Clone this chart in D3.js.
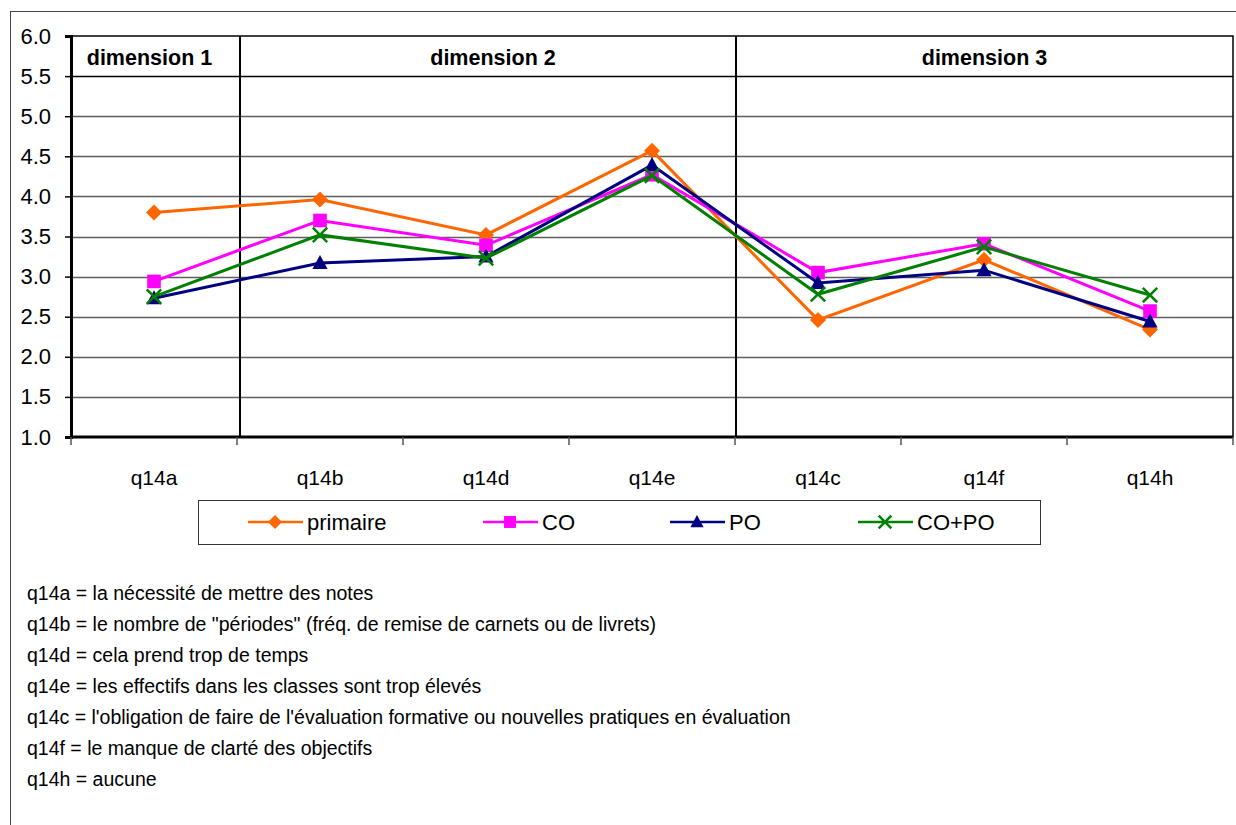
<!DOCTYPE html>
<html><head><meta charset="utf-8">
<script src="https://cdn.jsdelivr.net/npm/d3@7/dist/d3.min.js"></script>
<style>body{margin:0;background:#fff}svg{display:block;font-family:"Liberation Sans",Arial,sans-serif}</style>
</head><body>
<svg id="c" width="1236" height="825"></svg>
<script>
const categories = ["q14a","q14b","q14d","q14e","q14c","q14f","q14h"];
const primaire = [3.80, 3.96, 3.52, 4.57, 2.46, 3.21, 2.34];
const CO       = [2.94, 3.70, 3.39, 4.27, 3.05, 3.41, 2.57];
const PO       = [2.73, 3.17, 3.25, 4.39, 2.92, 3.08, 2.44];
const COPO     = [2.75, 3.52, 3.23, 4.26, 2.78, 3.37, 2.77];
const yTicks = [1.0,1.5,2.0,2.5,3.0,3.5,4.0,4.5,5.0,5.5,6.0];
const dimensions = [
  {label:"dimension 1", from:0, to:1},
  {label:"dimension 2", from:1, to:4},
  {label:"dimension 3", from:4, to:7}
];
const footnotes = [
  "q14a = la nécessité de mettre des notes",
  "q14b = le nombre de \"périodes\" (fréq. de remise de carnets ou de livrets)",
  "q14d = cela prend trop de temps",
  "q14e = les effectifs dans les classes sont trop élevés",
  "q14c = l'obligation de faire de l'évaluation formative ou nouvelles pratiques en évaluation",
  "q14f = le manque de clarté des objectifs",
  "q14h = aucune"
];
const series = [
  {name:"primaire", values:primaire, color:"#FF6600", marker:"diamond"},
  {name:"CO", values:CO, color:"#FF00FF", marker:"square"},
  {name:"PO", values:PO, color:"#000080", marker:"triangle"},
  {name:"CO+PO", values:COPO, color:"#008000", marker:"x"}
];

const svg = d3.select("#c");
const L=71, R=1233, T=36, B=437;
const x = d3.scaleBand().domain(categories).range([L,R]);
const y = d3.scaleLinear().domain([1,6]).range([B,T]);

// outer frame
svg.append("rect").attr("x",10.5).attr("y",11.5).attr("width",1240).attr("height",830)
  .attr("fill","none").attr("stroke","#444").attr("stroke-width",1);

// gridlines
svg.append("g").selectAll("line").data(yTicks.filter(d=>d>1&&d<6)).join("line")
  .attr("x1",L).attr("x2",R).attr("y1",d=>Math.round(y(d))+0.5).attr("y2",d=>Math.round(y(d))+0.5)
  .attr("stroke",d=>d===5.5?"#000":"#5e5e5e").attr("stroke-width",1.5);

// plot border
svg.append("rect").attr("x",L).attr("y",T).attr("width",R-L).attr("height",B-T)
  .attr("fill","none").attr("stroke","#000").attr("stroke-width",1.5);

// dimension separators
const sepX = [x(categories[1])+3, x(categories[4])+1];
svg.append("g").selectAll("line").data(sepX).join("line")
  .attr("x1",d=>d).attr("x2",d=>d).attr("y1",T).attr("y2",B)
  .attr("stroke","#000").attr("stroke-width",2);

// dimension labels
const dimX = [L, sepX[0], sepX[1], R];
const dimDx = [-6, 5, 0];
svg.append("g").selectAll("text").data(dimensions).join("text")
  .attr("x",(d,i)=> (dimX[i]+dimX[i+1])/2 + dimDx[i])
  .attr("y",65).attr("text-anchor","middle").attr("font-size",21.5).attr("font-weight","bold")
  .text(d=>d.label);

// y axis
const yAxis = d3.axisLeft(y).tickValues(yTicks).tickFormat(d3.format(".1f")).tickSize(6).tickPadding(14);
const gy = svg.append("g").attr("transform",`translate(${L},0)`).call(yAxis);
gy.select(".domain").attr("stroke","#000").attr("stroke-width",3);
gy.selectAll(".tick line").attr("stroke","#000").attr("stroke-width",1.5);
gy.selectAll("text").attr("font-size",22).attr("fill","#000").attr("font-family","Liberation Sans, Arial, sans-serif");

// x axis
const gx = svg.append("g").attr("transform",`translate(0,${B})`);
gx.append("line").attr("x1",L).attr("x2",R).attr("stroke","#000").attr("stroke-width",3);
const bounds = d3.range(categories.length+1).map(i=>L+i*x.step());
gx.selectAll("line.t").data(bounds).join("line").attr("class","t")
  .attr("x1",d=>d).attr("x2",d=>d).attr("y1",0).attr("y2",8).attr("stroke","#555").attr("stroke-width",1.5);
gx.selectAll("text").data(categories).join("text")
  .attr("x",d=>x(d)+x.bandwidth()/2).attr("y",48).attr("text-anchor","middle").attr("font-size",21).text(d=>d);

// markers
function drawMarker(g, type, color, s){
  if(type==="diamond") g.append("path").attr("d",`M0,${-s}L${s},0L0,${s}L${-s},0Z`).attr("fill",color);
  else if(type==="square") g.append("rect").attr("x",-s*0.85).attr("y",-s*0.85).attr("width",s*1.7).attr("height",s*1.7).attr("fill",color);
  else if(type==="triangle") g.append("path").attr("d",`M0,${-s}L${s*0.95},${s*0.75}L${-s*0.95},${s*0.75}Z`).attr("fill",color);
  else if(type==="x") g.append("path").attr("d",`M${-s*0.9},${-s*0.9}L${s*0.9},${s*0.9}M${s*0.9},${-s*0.9}L${-s*0.9},${s*0.9}`).attr("stroke",color).attr("stroke-width",2.5).attr("fill","none");
}

const line = d3.line().x((d,i)=>x(categories[i])+x.bandwidth()/2).y(d=>y(d));
series.forEach(s=>{
  const g = svg.append("g");
  g.append("path").attr("d",line(s.values)).attr("fill","none").attr("stroke",s.color).attr("stroke-width",3);
  s.values.forEach((v,i)=>{
    const m = g.append("g").attr("transform",`translate(${x(categories[i])+x.bandwidth()/2},${y(v)})`);
    drawMarker(m, s.marker, s.color, 8);
  });
});

// legend
const lg = svg.append("g");
lg.append("rect").attr("x",198.5).attr("y",500.5).attr("width",842).attr("height",44)
  .attr("fill","#fff").attr("stroke","#333").attr("stroke-width",1);
const legX = [248, 483, 670, 858];
series.forEach((s,i)=>{
  const g = lg.append("g").attr("transform",`translate(${legX[i]},522)`);
  g.append("line").attr("x1",0).attr("x2",55).attr("stroke",s.color).attr("stroke-width",2.5);
  const m = g.append("g").attr("transform","translate(27,0)");
  drawMarker(m, s.marker, s.color, 7);
  g.append("text").attr("x",59).attr("y",8).attr("font-size",22).text(s.name);
});

// footnotes
svg.append("g").selectAll("text").data(footnotes).join("text")
  .attr("x",27).attr("y",(d,i)=>600+i*31).attr("font-size",19.5).text(d=>d);
</script>
</body></html>
